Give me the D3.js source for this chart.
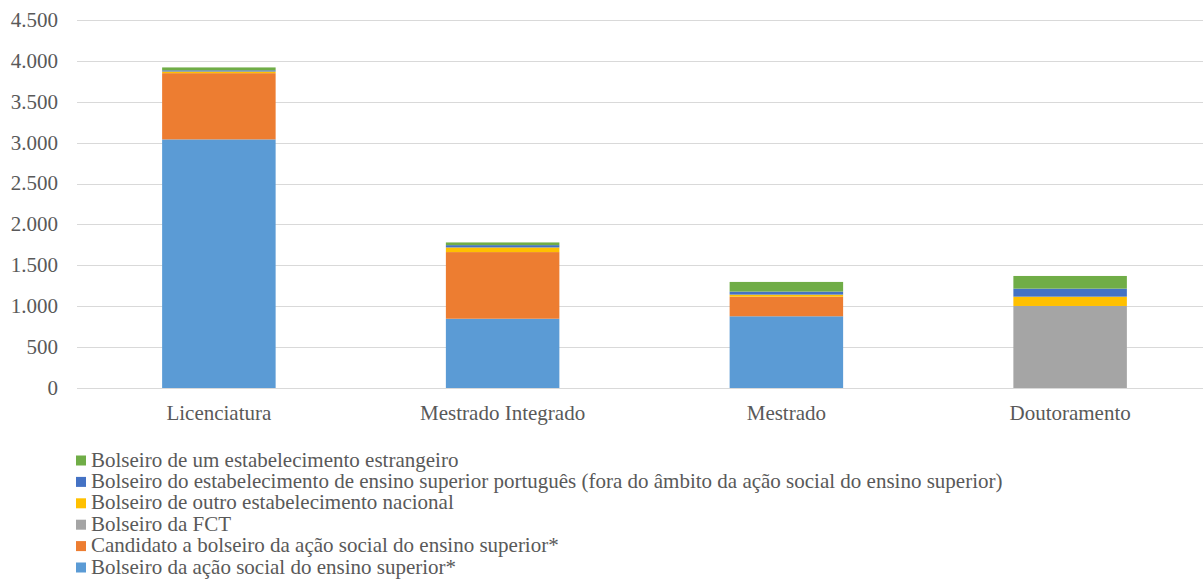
<!DOCTYPE html>
<html>
<head>
<meta charset="utf-8">
<script src="https://cdn.jsdelivr.net/npm/d3@7/dist/d3.min.js"></script>
<style>
  html, body { margin: 0; padding: 0; background: #fff; }
  svg { display: block; }
</style>
</head>
<body>
<svg id="chart" width="1203" height="581"></svg>
<script>
const categories = ['Licenciatura', 'Mestrado Integrado', 'Mestrado', 'Doutoramento'];

// stacking order bottom -> top
const seriesNames = [
  'Bolseiro da ação social do ensino superior*',
  'Candidato a bolseiro da ação social do ensino superior*',
  'Bolseiro da FCT',
  'Bolseiro de outro estabelecimento nacional',
  'Bolseiro do estabelecimento de ensino superior português (fora do âmbito da ação social do ensino superior)',
  'Bolseiro de um estabelecimento estrangeiro'
];
const seriesColors = ['#5B9BD5', '#ED7D31', '#A5A5A5', '#FFC000', '#4472C4', '#70AD47'];

const acaoSocial   = [3040, 847, 877, 0];
const candidato    = [810, 815, 240, 0];
const fct          = [0, 0, 0, 1003];
const outroNac     = [20, 57, 25, 114];
const estabPt      = [15, 28, 37, 98];
const estrangeiro  = [35, 33, 118, 155];
const seriesValues = [acaoSocial, candidato, fct, outroNac, estabPt, estrangeiro];

const yTicks = [0, 500, 1000, 1500, 2000, 2500, 3000, 3500, 4000, 4500];

const svg = d3.select('#chart');
const plotLeft = 77, plotRight = 1212, plotTop = 20, plotBottom = 388;
const textColor = '#595959';
const fontFamily = "'Liberation Serif', 'Times New Roman', serif";
const fontSize = 21;

const x = d3.scaleBand().domain(categories).range([plotLeft, plotRight]).paddingInner(0.6).paddingOuter(0.3);
const y = d3.scaleLinear().domain([0, 4500]).range([plotBottom, plotTop]);

const fmt = v => d3.format(',')(v).replace(/,/g, '.');

// gridlines
svg.append('g').selectAll('line').data(yTicks).join('line')
  .attr('x1', plotLeft).attr('x2', 1203)
  .attr('y1', d => Math.round(y(d)) + 0.5).attr('y2', d => Math.round(y(d)) + 0.5)
  .attr('stroke', '#D9D9D9').attr('stroke-width', 1);

svg.append('g').selectAll('text').data(yTicks).join('text')
  .attr('x', 58).attr('y', d => y(d)).attr('dy', '0.33em')
  .attr('text-anchor', 'end').style('font-family', fontFamily).style('font-size', fontSize + 'px').attr('fill', textColor)
  .text(fmt);

// stacked bars
const rows = categories.map((c, i) => {
  const r = { cat: c };
  seriesNames.forEach((s, j) => { r[s] = seriesValues[j][i]; });
  return r;
});
const stack = d3.stack().keys(seriesNames)(rows);

svg.append('g').selectAll('g').data(stack).join('g')
  .attr('fill', (d, i) => seriesColors[i])
  .selectAll('rect').data(d => d).join('rect')
  .attr('x', d => x(d.data.cat))
  .attr('width', x.bandwidth())
  .attr('y', d => y(d[1]))
  .attr('height', d => y(d[0]) - y(d[1]));

// category labels
svg.append('g').selectAll('text').data(categories).join('text')
  .attr('x', d => x(d) + x.bandwidth() / 2).attr('y', 420)
  .attr('text-anchor', 'middle').style('font-family', fontFamily).style('font-size', fontSize + 'px').attr('fill', textColor)
  .text(d => d);

// legend (reverse order: top of stack first)
const legendOrder = d3.range(seriesNames.length).reverse();
const lg = svg.append('g');
legendOrder.forEach((si, k) => {
  const yy = 466.5 + k * 21.4;
  lg.append('rect').attr('x', 76).attr('y', yy - 11).attr('width', 10).attr('height', 10).attr('fill', seriesColors[si]);
  lg.append('text').attr('x', 91).attr('y', yy).style('font-family', fontFamily).style('font-size', fontSize + 'px').attr('fill', textColor).text(seriesNames[si]);
});
</script>
</body>
</html>
